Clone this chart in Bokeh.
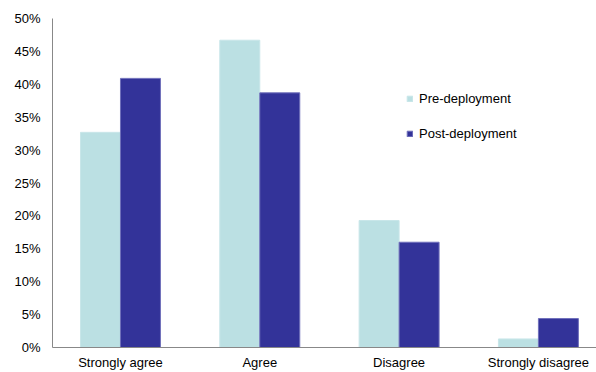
from bokeh.plotting import figure
from bokeh.models import (ColumnDataSource, Range1d, FixedTicker, NumeralTickFormatter,
                          Legend, LegendItem)
from bokeh.transform import dodge
from bokeh.embed import file_html
from bokeh.resources import INLINE

categories = ["Strongly agree", "Agree", "Disagree", "Strongly disagree"]
pre_deployment = [0.327, 0.467, 0.193, 0.013]
post_deployment = [0.409, 0.387, 0.160, 0.044]
y_ticks = [0.0, 0.05, 0.10, 0.15, 0.20, 0.25, 0.30, 0.35, 0.40, 0.45, 0.50]

FONT = "Liberation Sans"
PRE_COLOR = "#BBE0E3"
POST_COLOR = "#333399"

src = ColumnDataSource(dict(
    x=[i + 0.5 for i in range(len(categories))],
    pre=pre_deployment,
    post=post_deployment,
))

p = figure(width=596, height=372, output_backend="svg", toolbar_location=None,
           x_range=Range1d(0.012, 3.917), y_range=Range1d(0, 0.5),
           min_border_left=52, min_border_right=0, min_border_top=18,
           min_border_bottom=24)
p.outline_line_color = None
p.xgrid.visible = False
p.ygrid.visible = False
p.background_fill_color = "white"
p.border_fill_color = "white"

bw = 0.287
r_pre = p.vbar(x=dodge("x", -bw / 2, range=p.x_range), top="pre", width=bw, source=src,
               fill_color=PRE_COLOR, line_color="#C8E6E9", line_width=1)
r_post = p.vbar(x=dodge("x", bw / 2, range=p.x_range), top="post", width=bw, source=src,
                fill_color=POST_COLOR, line_color="#7070BB", line_width=1)

yax = p.yaxis[0]
yax.ticker = FixedTicker(ticks=y_ticks)
yax.formatter = NumeralTickFormatter(format="0%")
yax.major_tick_line_color = None
yax.minor_tick_line_color = None
yax.major_tick_out = 0
yax.major_label_standoff = 12
yax.axis_line_color = "#888888"
yax.major_label_text_font = FONT
yax.major_label_text_font_size = "13px"
yax.major_label_text_color = "#000000"

xax = p.xaxis[0]
xax.ticker = FixedTicker(ticks=[i + 0.5 for i in range(len(categories))])
xax.major_label_overrides = {i + 0.5: c for i, c in enumerate(categories)}
xax.major_tick_line_color = None
xax.minor_tick_line_color = None
xax.major_tick_out = 0
xax.major_label_standoff = 7
xax.axis_line_color = "#888888"
xax.major_label_text_font = FONT
xax.major_label_text_font_size = "13px"
xax.major_label_text_color = "#000000"

legend = Legend(items=[LegendItem(label="Pre-deployment", renderers=[r_pre]),
                       LegendItem(label="Post-deployment", renderers=[r_post])],
                location=(354, 206), orientation="vertical",
                glyph_width=7, glyph_height=7, label_height=14, spacing=20,
                label_standoff=6, padding=0, margin=0,
                border_line_color=None, background_fill_alpha=0,
                label_text_font=FONT, label_text_font_size="13px",
                label_text_color="#000000")
p.add_layout(legend)

open("out.html", "w").write(file_html(p, INLINE))
